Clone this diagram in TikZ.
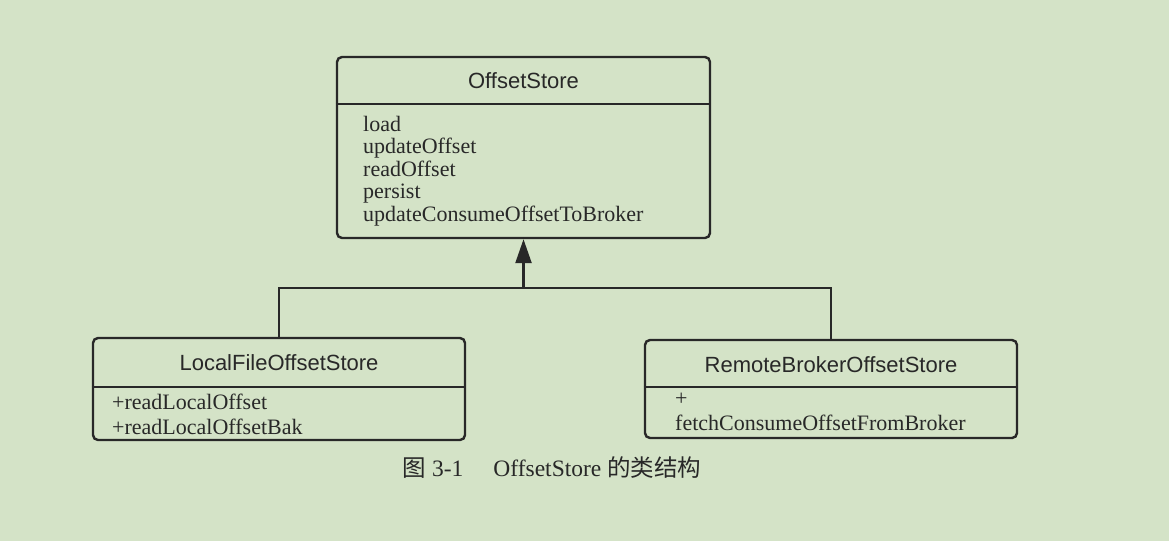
\documentclass[tikz,border=0pt]{standalone}
\usepackage{fontspec}
\setmainfont{Liberation Serif}
\setsansfont{Liberation Sans}
\newfontfamily\cjk{Noto Sans CJK SC}
\usetikzlibrary{positioning,
        arrows.meta}
\usepackage{xcolor}
\definecolor{pagegreen}{RGB}{212,227,199}
\definecolor{inkgray}{RGB}{40,40,40}

\tikzset{
    classbox/.style={draw=inkgray,line width=2.4pt,rounded corners=5pt,inner sep=0pt},
    classname/.style={font=\sffamily\fontsize{22}{22}\selectfont,text=inkgray},
    members/.style={font=\fontsize{22}{22.5}\selectfont,text=inkgray,align=left,anchor=north west,inner sep=0pt}
}

\begin{document}
\begin{tikzpicture}[x=1pt,y=-1pt]
    \fill[pagegreen] (0,0) rectangle (1169,541);
    \useasboundingbox (0,0) rectangle (1169,541);

    % base class
    \node [classbox,minimum width=373pt,minimum height=181pt] (store) at (523.5,147.5) {};
    \node [classname] (storename) at (523.5,81) {OffsetStore};
    \draw [inkgray,line width=2.4pt] ([yshift=-48pt]store.north west) -- ([yshift=-48pt]store.north east);
    \node [members] (storeops) at (363,116) {load\\updateOffset\\readOffset\\persist\\updateConsumeOffsetToBroker};

    % subclasses
    \node [classbox,minimum width=372pt,minimum height=102pt] (local) at (279,389) {};
    \node [classname] (localname) at (279,363) {LocalFileOffsetStore};
    \draw [inkgray,line width=2.4pt] ([yshift=-50pt]local.north west) -- ([yshift=-50pt]local.north east);
    \node [members,font=\fontsize{22}{24.5}\selectfont] (localops) at (112,394) {+readLocalOffset\\+readLocalOffsetBak};

    \node [classbox,minimum width=372pt,minimum height=98pt] (remote) at (831,389) {};
    \node [classname] (remotename) at (831,365) {RemoteBrokerOffsetStore};
    \draw [inkgray,line width=2.4pt] ([yshift=-48pt]remote.north west) -- ([yshift=-48pt]remote.north east);
    \node [members,font=\fontsize{22}{25}\selectfont] (remoteops) at (675,393) {+\\fetchConsumeOffsetFromBroker};

    % inheritance
    \coordinate (joint) at (523.5,288);
    \draw [inkgray,line width=2.4pt] (local.north) |- (joint) -| (remote.north);
    \draw [inkgray,line width=2.4pt,-{Triangle[length=24pt,width=16pt]}] (joint) -- (store.south);

    \node [text=inkgray,font=\fontsize{23.5}{24}\selectfont] (caption) at (552,468) {{\cjk 图} 3-1\hspace{30pt}OffsetStore {\cjk 的类结构}};
\end{tikzpicture}
\end{document}
